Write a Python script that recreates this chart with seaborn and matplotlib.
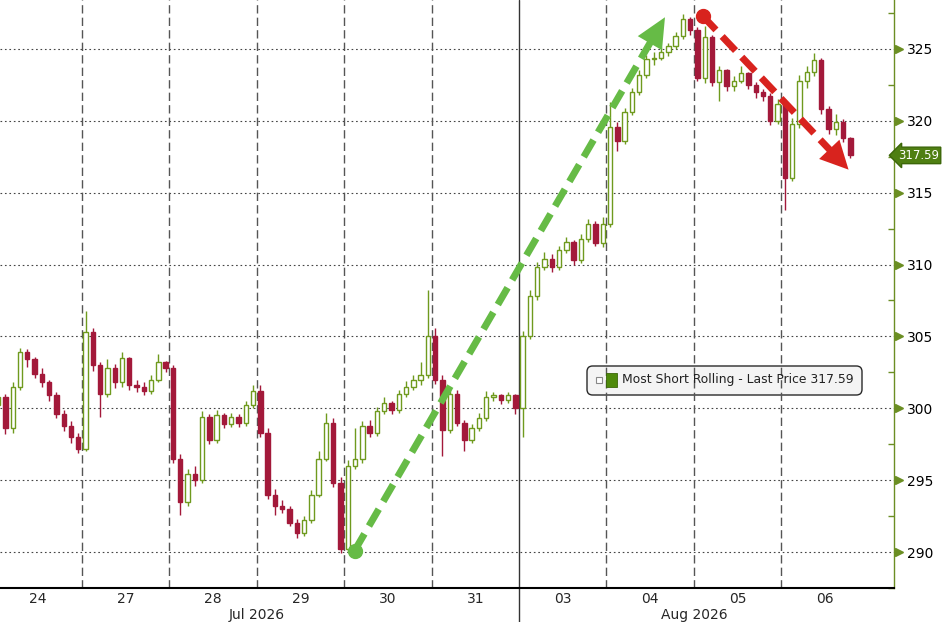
import numpy as np
import pandas as pd
import matplotlib
matplotlib.use("Agg")
import matplotlib.pyplot as plt
import matplotlib.transforms as mtransforms
from matplotlib.patches import FancyBboxPatch, Rectangle
import seaborn as sns

# Intraday bars, 12 per session (last session still running)
day_labels = ["24", "27", "28", "29", "30", "31", "03", "04", "05", "06"]
month_labels = ["Jul 2026", "Aug 2026"]
month_label_x = [3.0, 8.0]
bars_per_day = [12, 12, 12, 12, 12, 12, 12, 12, 12, 10]
first_open = 300.2
last_price = 317.59

closes = [
    300.8, 298.6, 301.5, 303.9, 303.4, 302.4, 301.8, 300.9, 299.6, 298.8, 298.0, 297.2,
    305.3, 303.0, 301.0, 302.8, 301.8, 303.5, 301.6, 301.5, 301.2, 302.0, 303.2, 302.8,
    296.5, 293.5, 295.4, 295.0, 299.4, 297.8, 299.5, 298.9, 299.4, 299.0, 300.2, 301.2,
    298.3, 294.0, 293.2, 293.0, 292.0, 291.3, 292.2, 294.0, 296.5, 299.0, 294.8, 290.2,
    296.0, 296.5, 298.8, 298.3, 299.8, 300.4, 299.9, 301.0, 301.5, 302.0, 302.3, 305.0,
    302.0, 298.5, 301.0, 299.0, 297.8, 298.6, 299.3, 300.8, 300.9, 300.6, 300.9, 300.0,
    305.0, 307.8, 309.8, 310.4, 309.8, 311.0, 311.6, 310.3, 311.8, 312.8, 311.5, 312.8,
    319.6, 318.6, 320.6, 322.0, 323.2, 324.3, 324.4, 324.8, 325.2, 325.9, 327.1, 326.3,
    323.0, 325.8, 322.7, 323.5, 322.4, 322.8, 323.3, 322.5, 322.0, 321.7, 320.0, 321.2,
    316.0, 319.8, 322.8, 323.4, 324.2, 320.8, 319.4, 319.9, 318.8, 317.59,
]
highs = [
    301.3, 301.0, 301.8, 304.2, 304.1, 303.6, 302.8, 302.0, 301.1, 299.9, 299.1, 298.3,
    306.8, 305.6, 303.2, 303.4, 303.1, 303.9, 303.6, 302.0, 301.8, 302.3, 303.8, 303.3,
    303.0, 296.8, 295.8, 296.0, 299.8, 299.6, 299.9, 299.7, 299.7, 299.6, 300.5, 301.6,
    301.6, 298.6, 294.4, 293.6, 293.2, 292.3, 292.5, 294.3, 297.0, 299.7, 299.3, 295.2,
    296.4, 298.6, 299.1, 299.2, 300.1, 300.8, 300.5, 301.3, 301.9, 302.3, 303.2, 308.2,
    305.6, 302.3, 301.4, 301.3, 299.2, 298.9, 299.7, 301.2, 301.1, 301.0, 301.1, 301.0,
    305.4, 308.2, 310.2, 310.9, 310.7, 311.3, 311.9, 311.7, 312.1, 313.2, 313.0, 313.3,
    321.3, 319.9, 320.9, 322.3, 323.5, 324.6, 324.8, 325.1, 325.4, 326.2, 327.4, 327.2,
    326.5, 326.6, 326.0, 323.8, 323.6, 323.1, 323.8, 323.4, 322.7, 322.2, 321.9, 321.5,
    321.5, 320.2, 323.2, 323.8, 324.7, 324.4, 321.0, 320.5, 320.1, 318.9,
]
lows = [
    299.8, 298.2, 298.3, 301.3, 302.9, 302.1, 301.5, 300.5, 299.3, 298.4, 297.6, 296.9,
    297.0, 302.6, 299.4, 300.8, 301.4, 301.5, 301.3, 301.1, 300.9, 301.0, 301.8, 302.5,
    296.2, 292.6, 293.2, 294.6, 294.8, 297.5, 297.6, 298.6, 298.7, 298.7, 298.8, 300.0,
    298.0, 293.7, 292.6, 292.7, 291.8, 291.0, 291.1, 292.0, 293.8, 296.3, 294.5, 289.9,
    290.0, 295.8, 296.2, 298.0, 298.1, 299.6, 299.6, 299.7, 300.8, 301.3, 301.6, 302.1,
    301.7, 296.7, 298.3, 298.8, 297.0, 297.6, 298.4, 299.1, 300.5, 300.3, 300.4, 299.6,
    298.0, 304.8, 307.5, 309.6, 309.5, 309.6, 310.8, 310.0, 310.1, 311.6, 311.3, 311.2,
    312.6, 317.9, 318.4, 320.4, 321.8, 323.0, 323.9, 324.2, 324.5, 325.0, 325.7, 326.0,
    322.8, 322.6, 322.4, 321.4, 322.1, 322.1, 322.6, 322.2, 321.6, 321.4, 319.7, 319.8,
    313.8, 315.8, 319.5, 322.3, 323.1, 320.5, 319.1, 319.0, 318.5, 317.4,
]

# Build the bar table
day_idx = np.repeat(np.arange(len(bars_per_day)), bars_per_day)
slot = np.concatenate([np.arange(n) for n in bars_per_day])
df = pd.DataFrame({"day": day_idx, "slot": slot, "close": closes, "high": highs, "low": lows})
df["open"] = df["close"].shift(1).fillna(first_open)
df["x"] = df["day"] + (df["slot"] + 0.5) / 12
df["up"] = df["close"] >= df["open"]

green = "#6f9a1e"
red = "#a3193a"
axis_green = "#6b8e23"

sns.set_theme(style="white")
plt.rcParams["font.family"] = ["DejaVu Sans"]

fig = plt.figure(figsize=(9.43, 6.22), dpi=100)
ax = fig.add_axes([0, 1 - 588 / 622, 894 / 943, 588 / 622])
ax.set_xlim(0.063, 10.29)
ax.set_ylim(288.44, 328.4)

# Candles
w = 0.6 / 12
up = df[df["up"]]
dn = df[~df["up"]]
ax.vlines(up["x"], up["low"], up["high"], color=green, lw=1, zorder=3)
ax.vlines(dn["x"], dn["low"], dn["high"], color=red, lw=1, zorder=3)
ax.bar(up["x"], up["close"] - up["open"], bottom=up["open"], width=w,
       facecolor="white", edgecolor=green, lw=1, zorder=4)
ax.bar(dn["x"], dn["close"] - dn["open"], bottom=dn["open"], width=w,
       facecolor=red, edgecolor=red, lw=1, zorder=4)

# Grid
yticks = np.arange(290, 326, 5)
for yv in yticks:
    ax.axhline(yv, color="#444444", ls=(0, (1.5, 2.5)), lw=0.8, zorder=1)
for d in range(1, 10):
    if d == 6:
        continue
    ax.axvline(d, color="#555555", ls=(0, (6, 3)), lw=1, zorder=1)
xline = mtransforms.blended_transform_factory(ax.transData, ax.transAxes)
ax.plot([6, 6], [-0.06, 1], color="#333333", lw=1, transform=xline, clip_on=False, zorder=1)


# Trend arrows
def dashed_arrow(p0, p1, color, head_len_px, head_w_px):
    fig.canvas.draw()
    a = ax.transData.transform(p0)
    b = ax.transData.transform(p1)
    v = (b - a) / np.hypot(*(b - a))
    base = ax.transData.inverted().transform(b - v * head_len_px)
    shaft_end = ax.transData.inverted().transform(b - v * head_len_px * 0.8)
    ax.plot([p0[0], shaft_end[0]], [p0[1], shaft_end[1]], color=color, lw=5,
            dashes=(2.8, 1.3), solid_capstyle="butt", dash_capstyle="butt", zorder=6)
    ax.plot([p0[0]], [p0[1]], marker="o", ms=10, color=color, zorder=6)
    ax.annotate("", xy=p1, xytext=base,
                arrowprops=dict(arrowstyle=f"-|>,head_length={head_len_px * 0.72 / 10},"
                                           f"head_width={head_w_px * 0.36 / 10}",
                                mutation_scale=10, color=color, lw=0, shrinkA=0, shrinkB=0),
                zorder=6)


dashed_arrow((4.12, 290.1), (7.67, 327.2), "#66bb46", 30, 28)
dashed_arrow((8.1, 327.3), (9.77, 316.6), "#d8231e", 28, 28)

# Axes styling
ax.yaxis.tick_right()
ax.set_yticks(yticks)
ax.set_yticks(np.arange(287.5, 328.5, 2.5), minor=True)
ax.tick_params(axis="y", which="major", length=0, pad=9, labelsize=10, labelcolor="black")
ax.tick_params(axis="y", which="minor", direction="in", length=4, color=axis_green, width=1, right=True)
ax.plot(np.full(len(yticks), 1 + 5 / 894), yticks, ls="", marker=">", ms=6, color=axis_green,
        transform=ax.get_yaxis_transform(), clip_on=False)

ax.set_xticks(np.arange(len(day_labels)) + 0.5, day_labels)
ax.tick_params(axis="x", length=0, pad=3, labelsize=10)
for lab, xm in zip(month_labels, month_label_x):
    ax.text(xm, -0.046, lab, transform=xline, ha="center", va="center", fontsize=10)

for s in ["left", "top"]:
    ax.spines[s].set_visible(False)
ax.spines["right"].set_color(axis_green)
ax.spines["right"].set_linewidth(1)
ax.spines["bottom"].set_color("black")
ax.spines["bottom"].set_linewidth(1.5)

# Last price tag
ax.text(1 + 45 / 894, last_price, f"{last_price:.2f}", transform=ax.get_yaxis_transform(),
        ha="right", va="center", color="white", fontsize=8.4, clip_on=False, zorder=7,
        bbox=dict(boxstyle="larrow,pad=0.15", fc="#4f7f12", ec="#3b6608", lw=1))

# Legend box
fx = lambda px: px / 943
fy = lambda py: 1 - py / 622
ax.add_patch(FancyBboxPatch((fx(587), fy(395)), fx(862) - fx(587), fy(366) - fy(395),
                            boxstyle="round,pad=0,rounding_size=0.006", mutation_aspect=943 / 622,
                            transform=fig.transFigure, fc="#f4f4f4", ec="#2a2a2a", lw=1,
                            clip_on=False, zorder=0.5))
ax.add_patch(Rectangle((fx(596), fy(383)), fx(602) - fx(596), fy(377) - fy(383),
                       transform=fig.transFigure, fc="white", ec="#888888", lw=0.8,
                       clip_on=False, zorder=5))
ax.add_patch(Rectangle((fx(606), fy(387)), fx(617) - fx(606), fy(373) - fy(387),
                       transform=fig.transFigure, fc="#4f8a0b", ec="#3b6608", lw=0.6,
                       clip_on=False, zorder=5))
ax.text(fx(622), fy(380), "Most Short Rolling - Last Price 317.59", transform=fig.transFigure,
        ha="left", va="center", fontsize=8.9, color="#222222", zorder=5)

fig.savefig("out.png", dpi=100)
